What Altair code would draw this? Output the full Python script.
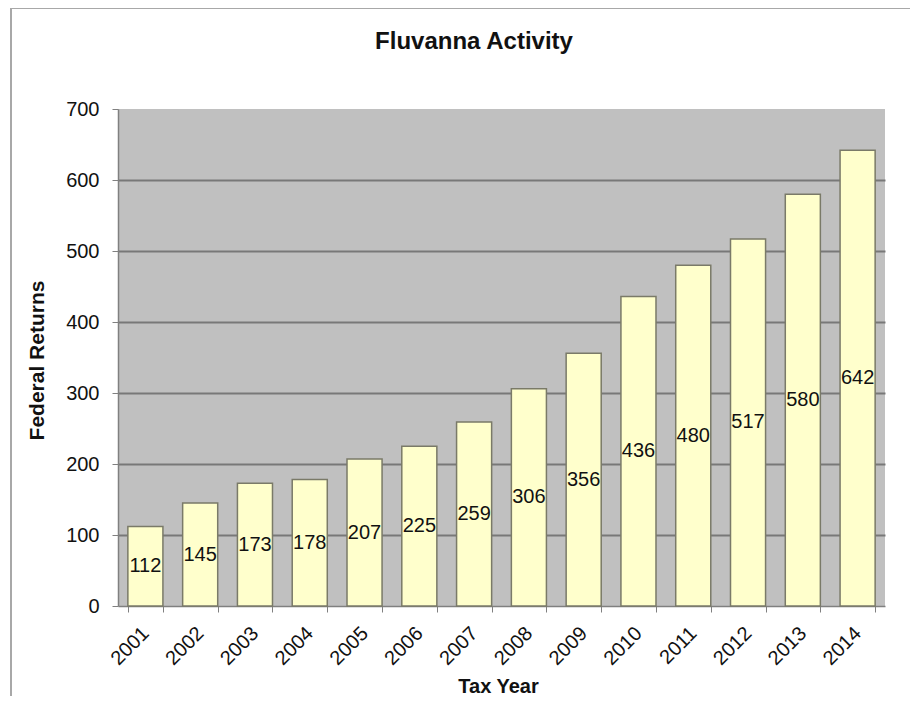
import altair as alt
import pandas as pd

years = ["2001", "2002", "2003", "2004", "2005", "2006", "2007",
         "2008", "2009", "2010", "2011", "2012", "2013", "2014"]
returns = [112, 145, 173, 178, 207, 225, 259, 306, 356, 436, 480, 517, 580, 642]
y_ticks = [0, 100, 200, 300, 400, 500, 600, 700]
chart_title = "Fluvanna Activity"

df = pd.DataFrame({"year": years, "returns": returns})

W, H = 767, 497
FONT = "Liberation Sans"

x_enc = alt.X("year:N", sort=years,
              scale=alt.Scale(paddingInner=0.36, paddingOuter=0.18),
              axis=alt.Axis(title="Tax Year", tickBand="extent", labelAngle=-45,
                            labelAlign="right", labelBaseline="middle",
                            labelPadding=18, labelFontSize=20, labelColor="#111111",
                            labelFont=FONT, tickSize=6, tickColor="#808080",
                            domainColor="#808080", domainWidth=1.5,
                            titleFont=FONT, titleFontSize=20, titleFontWeight="bold",
                            titleColor="#111111", titleX=380, titleY=80,
                            titleBaseline="middle", grid=False))
y_enc = alt.Y("returns:Q",
              scale=alt.Scale(domain=[0, 700], nice=False),
              axis=alt.Axis(title="Federal Returns", values=y_ticks,
                            labelFontSize=20, labelColor="#111111", labelFont=FONT,
                            labelPadding=13, tickSize=6, tickColor="#808080",
                            domainColor="#808080", domainWidth=1.5,
                            grid=True, gridWidth=2,
                            gridColor={"condition": {"test": "datum.value >= 700 || datum.value <= 0",
                                                     "value": "transparent"},
                                       "value": "#787878"},
                            titleFont=FONT, titleFontSize=21, titleFontWeight="bold",
                            titleColor="#111111", titleX=-81, titleY=251,
                            titleBaseline="middle"))

bars = alt.Chart(df).mark_bar(fill="#ffffcc", stroke="#7a7a68", strokeWidth=1.5).encode(
    x=x_enc, y=y_enc)

labels = alt.Chart(df).transform_calculate(mid="datum.returns / 2").mark_text(
    font=FONT, fontSize=20, color="#111111", baseline="middle").encode(
    x=alt.X("year:N", sort=years), y=alt.Y("mid:Q"), text="returns:Q")

title_txt = alt.Chart(pd.DataFrame({"t": [chart_title]})).mark_text(
    font=FONT, fontSize=24, fontWeight="bold", color="#111111",
    baseline="middle", align="center").encode(
    x=alt.value(356), y=alt.value(-67), text="t:N")

frame_top = alt.Chart(df).mark_rule(color="#a8a8a8", strokeWidth=1.5).encode(
    x=alt.value(-107), x2=alt.value(W + 25), y=alt.value(-101))
frame_left = alt.Chart(df).mark_rule(color="#a8a8a8", strokeWidth=1.5).encode(
    x=alt.value(-107), y=alt.value(-101), y2=alt.value(H + 90))

chart = alt.layer(bars, labels, title_txt, frame_top, frame_left).properties(
    width=W, height=H,
    autosize=alt.AutoSizeParams(type="none"),
    padding={"left": 110, "top": 101, "right": 25, "bottom": 90},
).configure(background="white").configure_view(fill="#c0c0c0", strokeWidth=0)

chart.save("out.html", embed_options={"renderer": "svg", "actions": False})
